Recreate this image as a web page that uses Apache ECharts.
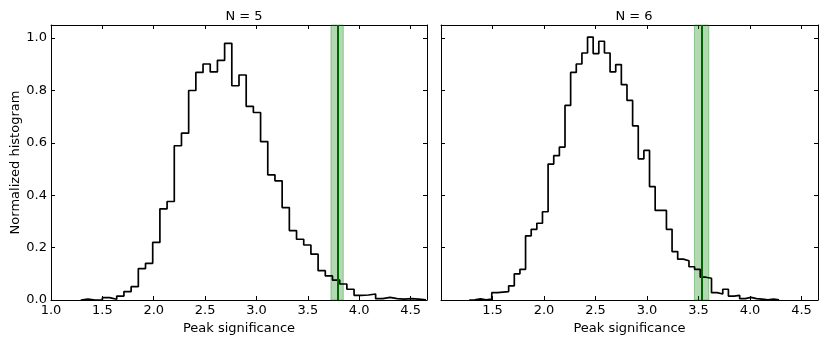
<!DOCTYPE html>
<html>
<head>
<meta charset="utf-8">
<script src="https://cdn.jsdelivr.net/npm/echarts@6/dist/echarts.min.js"></script>
<style>
  html, body { margin: 0; padding: 0; background: #fff; }
  #main { width: 830px; height: 346px; }
</style>
</head>
<body>
<div id="main"></div>
<script>
  // N = 5 : bins start at 1.29, width 0.07
  var binStart5 = 1.29;
  var binWidth5 = 0.07;
  var counts5 = [0.003, 0.0, 0.0, 0.009, 0.003, 0.015, 0.032, 0.051, 0.12, 0.14,
    0.22, 0.348, 0.376, 0.589, 0.637, 0.80, 0.869, 0.901, 0.871, 0.915,
    0.980, 0.818, 0.859, 0.739, 0.716, 0.605, 0.478, 0.455, 0.353, 0.265,
    0.232, 0.210, 0.175, 0.112, 0.092, 0.076, 0.061, 0.041, 0.018, 0.019,
    0.023, 0.005, 0.010, 0.005, 0.003, 0.005, 0.003, 0.001];
  var peak5 = 3.785;
  var band5 = [3.725, 3.845];

  // N = 6 : bins start at 1.274, width 0.0547
  var binStart6 = 1.274;
  var binWidth6 = 0.0547;
  var counts6 = [0.001, 0.004, 0.001, 0.003, 0.028, 0.030, 0.032, 0.054, 0.10, 0.117,
    0.245, 0.27, 0.293, 0.337, 0.519, 0.551, 0.584, 0.743, 0.869, 0.901,
    0.943, 1.004, 0.941, 0.988, 0.943, 0.871, 0.899, 0.822, 0.762, 0.665,
    0.539, 0.571, 0.433, 0.342, 0.342, 0.270, 0.185, 0.156, 0.150, 0.127,
    0.117, 0.087, 0.083, 0.028, 0.023, 0.041, 0.015, 0.018, 0.005, 0.010,
    0.005, 0.003, 0.001, 0.003, 0.001];
  var peak6 = 3.53;
  var band6 = [3.46, 3.60];

  var titles = ['N = 5', 'N = 6'];
  var xMin = 1.0, xMax = 4.66;
  var yMin = 0, yMax = 1.05;

  // step outline like matplotlib histtype='step'
  function stepPoints(start, width, counts) {
    var pts = [[start, 0]];
    for (var i = 0; i < counts.length; i++) {
      pts.push([start + i * width, counts[i]]);
    }
    var end = start + counts.length * width;
    pts.push([end, counts[counts.length - 1]]);
    pts.push([end, 0]);
    return pts;
  }

  function fmtX(v) {
    return Math.abs(v * 2 - Math.round(v * 2)) < 1e-6 ? v.toFixed(1) : '';
  }
  function fmtX2(v) {
    if (Math.abs(v - 1) < 1e-6) return '';
    return fmtX(v);
  }
  function fmtY(v) {
    return Math.abs(v * 5 - Math.round(v * 5)) < 1e-6 ? v.toFixed(1) : '';
  }

  var font = 'DejaVu Sans';
  var fs = 13;
  var grids = [
    { left: 51, top: 25, width: 376, height: 275 },
    { left: 441, top: 25, width: 377, height: 275 }
  ];

  function xAxisFor(g, bottom, fmt) {
    return {
      type: 'value', gridIndex: g, min: xMin, max: xMax, interval: 0.5,
      position: bottom ? 'bottom' : 'top',
      name: bottom ? 'Peak significance' : '',
      nameLocation: 'middle', nameGap: 22,
      nameTextStyle: { fontFamily: font, fontSize: fs, color: '#000' },
      axisLine: { show: true, onZero: false, lineStyle: { color: '#000', width: 1 } },
      axisTick: { show: true, inside: true, length: 4, lineStyle: { color: '#000' } },
      axisLabel: { show: bottom, formatter: fmt, showMaxLabel: false, margin: 4,
        fontFamily: font, fontSize: fs, color: '#000' },
      splitLine: { show: false }
    };
  }
  function yAxisFor(g, left, labels) {
    return {
      type: 'value', gridIndex: g, min: yMin, max: yMax, interval: 0.2,
      position: left ? 'left' : 'right',
      name: (left && labels) ? 'Normalized histogram' : '',
      nameLocation: 'middle', nameGap: 29,
      nameTextStyle: { fontFamily: font, fontSize: fs, color: '#000' },
      axisLine: { show: true, onZero: false, lineStyle: { color: '#000', width: 1 } },
      axisTick: { show: true, inside: true, length: 4, lineStyle: { color: '#000' } },
      axisLabel: { show: left && labels, formatter: fmtY, showMaxLabel: false, margin: 4,
        fontFamily: font, fontSize: fs, color: '#000' },
      splitLine: { show: false }
    };
  }

  function histSeries(idx, pts, peak, band) {
    return {
      type: 'line', xAxisIndex: idx, yAxisIndex: idx, data: pts,
      step: 'end', showSymbol: false, symbol: 'none',
      lineStyle: { color: '#000', width: 1.7 },
      z: 3,
      markArea: {
        silent: true,
        itemStyle: { color: 'rgba(0,128,0,0.3)', borderColor: 'rgba(0,128,0,0.35)', borderWidth: 1 },
        data: [[{ xAxis: band[0] }, { xAxis: band[1] }]]
      },
      markLine: {
        silent: true, symbol: 'none', label: { show: false },
        lineStyle: { color: '#006400', width: 2, type: 'solid' },
        data: [{ xAxis: peak }]
      }
    };
  }

  var chart = echarts.init(document.getElementById('main'));
  chart.setOption({
    animation: false,
    backgroundColor: '#fff',
    title: [
      { text: titles[0], left: 239, top: 5, textAlign: 'center',
        textStyle: { fontFamily: font, fontSize: fs, fontWeight: 'normal', color: '#000' } },
      { text: titles[1], left: 629, top: 5, textAlign: 'center',
        textStyle: { fontFamily: font, fontSize: fs, fontWeight: 'normal', color: '#000' } }
    ],
    grid: grids,
    xAxis: [
      xAxisFor(0, true, fmtX),
      xAxisFor(1, true, fmtX2),
      xAxisFor(0, false, fmtX),
      xAxisFor(1, false, fmtX)
    ],
    yAxis: [
      yAxisFor(0, true, true),
      yAxisFor(1, true, false),
      yAxisFor(0, false, false),
      yAxisFor(1, false, false)
    ],
    series: [
      histSeries(0, stepPoints(binStart5, binWidth5, counts5), peak5, band5),
      histSeries(1, stepPoints(binStart6, binWidth6, counts6), peak6, band6)
    ]
  });
</script>
</body>
</html>
